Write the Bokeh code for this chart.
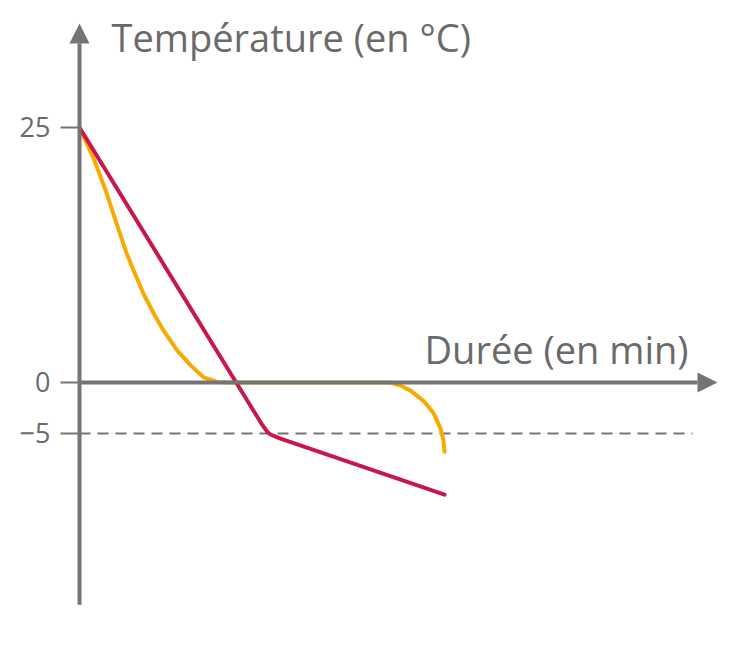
from bokeh.plotting import figure
from bokeh.models import Range1d, Arrow, NormalHead
from bokeh.core.properties import value
from bokeh.embed import file_html
from bokeh.resources import INLINE

# --- data (x: minutes, arbitrary unit; y: temperature in °C) ---
orange_x = [0, 1.4, 2.7, 3.8, 4.7, 5.4, 6.4, 7.4, 8.4, 9.8, 11.1, 12.4, 13.8, 14.8,
            31.1, 32.1, 33.1, 34.4, 35.4, 36.1, 36.4, 36.5]
orange_y = [25, 22.0, 18.6, 15.3, 12.7, 11.0, 8.7, 6.8, 5.1, 3.1, 1.7, 0.5, 0.05, 0.0,
            0.0, -0.3, -0.8, -1.8, -3.0, -4.5, -5.7, -6.8]

red_x = [0, 18.3, 18.8, 19.1, 19.6, 20.1, 36.5]
red_y = [25, -4.2, -4.85, -5.1, -5.3, -5.5, -11.0]

tick_values = [25, 0, -5]
tick_labels = ["25", "0", "\u22125"]
ref_level = -5

y_title = "Température (en °C)"
x_title = "Durée (en min)"

GRAY = "#747474"
TEXT = "#6a6a6a"
FONT = "Open Sans"

p = figure(width=720, height=648, output_backend="svg", toolbar_location=None,
           x_range=Range1d(-7.9, 64.1), y_range=Range1d(-26.08, 37.45),
           min_border=0, outline_line_color=None)
p.axis.visible = False
p.grid.visible = False

# dashed reference line
p.line([0, 61.3], [ref_level, ref_level], line_color=GRAY, line_width=2, line_dash="11 7")

# axes with arrows
p.add_layout(Arrow(x_start=0, y_start=-21.8, x_end=0, y_end=35.2, line_color=GRAY, line_width=4,
                   end=NormalHead(size=20, fill_color=GRAY, line_color=GRAY, line_width=0)))
p.add_layout(Arrow(x_start=0, y_start=0, x_end=63.8, y_end=0, line_color=GRAY, line_width=4,
                   end=NormalHead(size=20, fill_color=GRAY, line_color=GRAY, line_width=0)))

# tick marks and labels
p.segment(x0=[-1.9] * len(tick_values), y0=tick_values, x1=[0] * len(tick_values), y1=tick_values,
          line_color=GRAY, line_width=2)
p.text(x=[-2.9] * len(tick_values), y=tick_values, text=tick_labels, text_align="right",
       text_baseline="middle", text_font=value(FONT), text_font_size="27px", text_color=TEXT)

# curves
p.line(orange_x, orange_y, line_color="#f7aa00", line_width=4, line_join="round", line_cap="round")
p.line(red_x, red_y, line_color="#c8174b", line_width=4, line_join="round", line_cap="round")

# axis titles
p.text(x=[3.2], y=[33.9], text=[y_title], text_align="left", text_baseline="alphabetic",
       text_font=value(FONT), text_font_size="38px", text_color=TEXT)
p.text(x=[60.9], y=[3.3], text=[x_title], text_align="right", text_baseline="alphabetic",
       text_font=value(FONT), text_font_size="38px", text_color=TEXT)

open("out.html", "w").write(file_html(p, INLINE))
